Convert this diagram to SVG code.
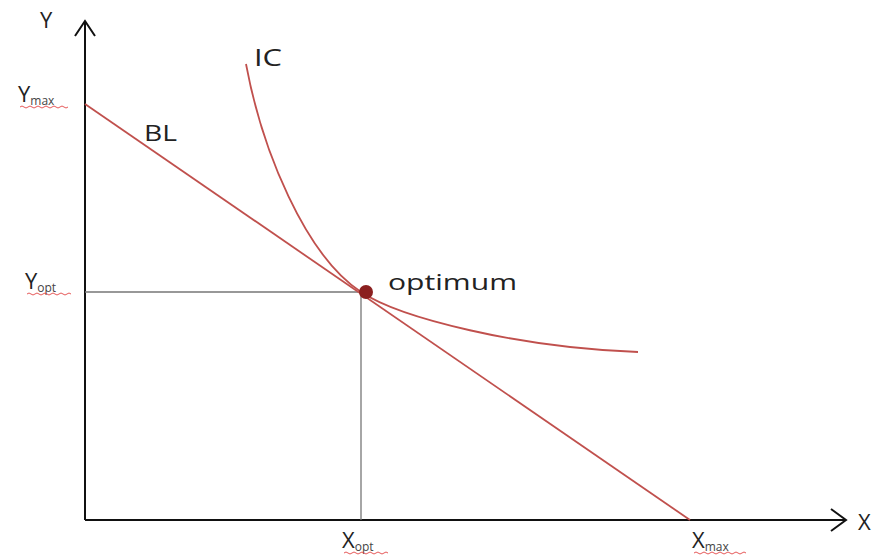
<svg xmlns="http://www.w3.org/2000/svg" width="884" height="559" viewBox="0 0 884 559">
<style>
.lbl{font-family:"Open Sans","Noto Sans",sans-serif;fill:#222;}
.sub{font-size:12px;fill:#444;}
.axis{stroke:#111;stroke-width:2;fill:none;}
.guide{stroke:#777;stroke-width:1.3;fill:none;}
.curve{stroke:#c0504d;stroke-width:1.8;fill:none;}
.squig{stroke:#e03030;stroke-width:1;fill:none;opacity:0.8;}
</style>
<rect width="884" height="559" fill="#fff"/>
<g id="connectors">
<path class="axis" d="M85,520 V22 M75,36 L85,21 L95,36"/>
<path class="axis" d="M85,520 H846 M831,509 L846,520 L831,531"/>
<path class="guide" d="M85,292 H361 V520"/>
</g>
<g id="budget-line"><path class="curve" d="M85,104 L690,520"/></g>
<g id="indifference-curve"><path class="curve" d="M246,64 C262,150 305,255 361,292 C400,318 520,348 638,352"/></g>
<g id="optimum"><circle cx="366" cy="292" r="7" fill="#8b2020"/>
<text class="lbl" x="388" y="290" font-size="22" textLength="129" lengthAdjust="spacingAndGlyphs">optimum</text></g>
<g id="labels">
<text class="lbl" x="40" y="28" font-size="22">Y</text>
<text class="lbl" x="858" y="530" font-size="22">X</text>
<text class="lbl" x="144" y="141" font-size="21" textLength="33" lengthAdjust="spacingAndGlyphs">BL</text>
<text class="lbl" x="254" y="66" font-size="24" textLength="28" lengthAdjust="spacingAndGlyphs">IC</text>
<text class="lbl" x="18" y="102" font-size="22">Y<tspan class="sub" dy="3">max</tspan></text>
<path class="squig" d="M20,107 q2,-2 4,0 t4,0 t4,0 t4,0 t4,0 t4,0 t4,0 t4,0 t4,0 t4,0 t4,0 t4,0"/>
<text class="lbl" x="25" y="289" font-size="22">Y<tspan class="sub" dy="3">opt</tspan></text>
<path class="squig" d="M27,294 q2,-2 4,0 t4,0 t4,0 t4,0 t4,0 t4,0 t4,0 t4,0 t4,0 t4,0 t4,0"/>
<text class="lbl" x="342" y="548" font-size="22">X<tspan class="sub" dy="3">opt</tspan></text>
<path class="squig" d="M344,553 q2,-2 4,0 t4,0 t4,0 t4,0 t4,0 t4,0 t4,0 t4,0 t4,0 t4,0 t4,0"/>
<text class="lbl" x="692" y="548" font-size="22">X<tspan class="sub" dy="3">max</tspan></text>
<path class="squig" d="M694,553 q2,-2 4,0 t4,0 t4,0 t4,0 t4,0 t4,0 t4,0 t4,0 t4,0 t4,0 t4,0 t4,0 t4,0"/>
</g>
</svg>
